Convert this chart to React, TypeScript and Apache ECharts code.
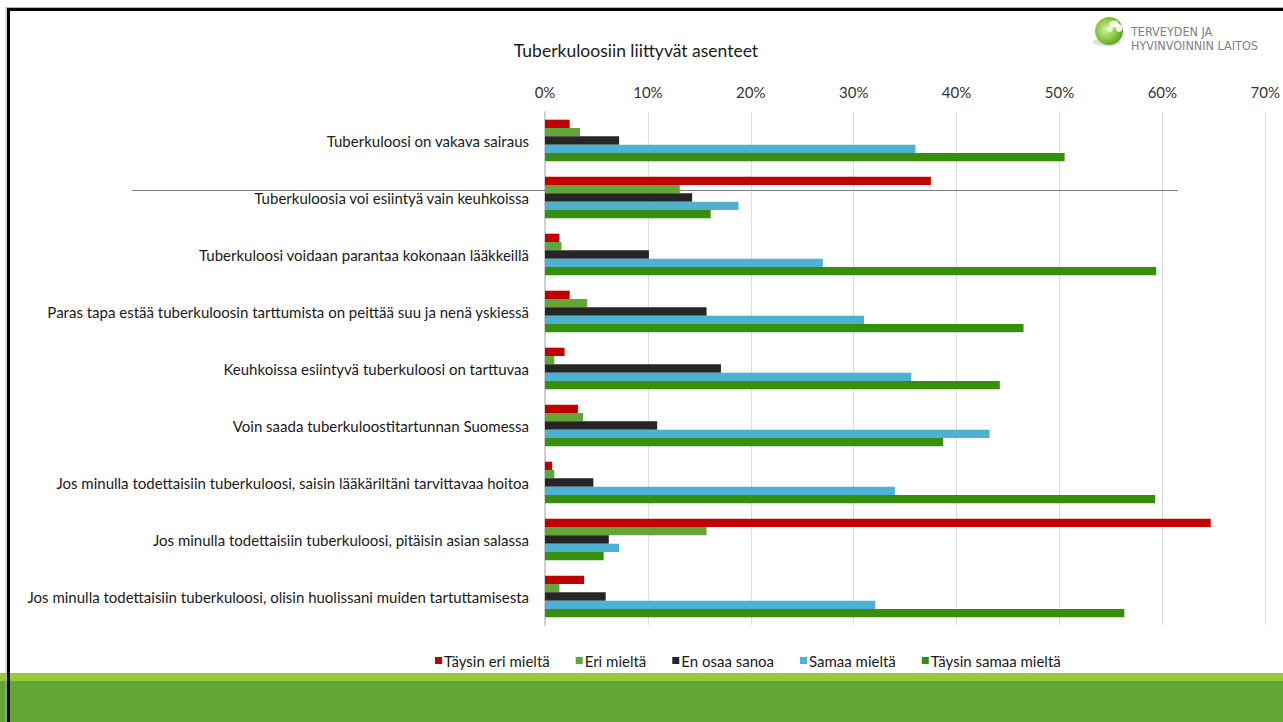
import React, { useEffect, useRef } from "react";
import * as echarts from "echarts";

const categories = [
  "Tuberkuloosi on vakava sairaus",
  "Tuberkuloosia voi esiintyä vain keuhkoissa",
  "Tuberkuloosi voidaan parantaa kokonaan lääkkeillä",
  "Paras tapa estää tuberkuloosin tarttumista on peittää suu ja nenä yskiessä",
  "Keuhkoissa esiintyvä tuberkuloosi on tarttuvaa",
  "Voin saada tuberkuloostitartunnan Suomessa",
  "Jos minulla todettaisiin tuberkuloosi, saisin lääkäriltäni tarvittavaa hoitoa",
  "Jos minulla todettaisiin tuberkuloosi, pitäisin asian salassa",
  "Jos minulla todettaisiin tuberkuloosi, olisin huolissani muiden tartuttamisesta",
];

const seriesNames = [
  "Täysin eri mieltä",
  "Eri mieltä",
  "En osaa sanoa",
  "Samaa mieltä",
  "Täysin samaa mieltä",
];

const taysinEri = [2.4, 37.5, 1.4, 2.4, 1.9, 3.2, 0.7, 64.7, 3.8];
const eri = [3.4, 13.1, 1.6, 4.1, 0.9, 3.7, 0.9, 15.7, 1.4];
const enOsaa = [7.2, 14.3, 10.1, 15.7, 17.1, 10.9, 4.7, 6.2, 5.9];
const samaa = [36.0, 18.8, 27.0, 31.0, 35.6, 43.2, 34.0, 7.2, 32.1];
const taysinSamaa = [50.5, 16.1, 59.4, 46.5, 44.2, 38.7, 59.3, 5.7, 56.3];

const seriesValues = [taysinEri, eri, enOsaa, samaa, taysinSamaa];
const seriesColors = ["#C00000", "#62A63A", "#262626", "#4EB1D0", "#368F0D"];

const FONT = "Lato, 'Open Sans', sans-serif";

export default function App() {
  const ref = useRef<HTMLDivElement>(null);

  useEffect(() => {
    if (!ref.current) return;
    const chart = echarts.init(ref.current, undefined, { renderer: "svg" });

    const option = {
      animation: false,
      backgroundColor: "#ffffff",
      title: {
        text: "Tuberkuloosiin liittyvät asenteet",
        left: 631,
        textAlign: "center",
        top: 36,
        textStyle: {
          fontFamily: FONT,
          fontSize: 17.5,
          fontWeight: "normal",
          color: "#1a1a1a",
        },
      },
      legend: {
        data: seriesNames,
        left: 430,
        top: 648,
        icon: "rect",
        itemWidth: 7,
        itemHeight: 7,
        itemGap: 26,
        textStyle: { fontFamily: FONT, fontSize: 15, color: "#1a1a1a", padding: [0, 0, 0, -3] },
      },
      grid: { left: 545, right: 17, top: 112, bottom: 97, containLabel: false },
      xAxis: {
        type: "value",
        position: "top",
        min: 0,
        max: 70,
        interval: 10,
        axisLine: { show: false },
        axisTick: { show: false },
        axisLabel: {
          formatter: "{value}%",
          fontFamily: FONT,
          fontSize: 15,
          color: "#333333",
          margin: 13,
        },
        splitLine: { show: true, lineStyle: { color: "#dcdcdc", width: 1 } },
      },
      yAxis: {
        type: "category",
        data: categories,
        inverse: true,
        axisTick: { show: false },
        axisLine: { show: true, lineStyle: { color: "#cfcfcf", width: 2 } },
        axisLabel: {
          fontFamily: FONT,
          fontSize: 15,
          color: "#1a1a1a",
          margin: 16,
        },
      },
      series: seriesNames.map((name, i) => ({
        name,
        type: "bar",
        data: seriesValues[i],
        barGap: "0%",
        barCategoryGap: "27%",
        itemStyle: { color: seriesColors[i] },
        z: 3,
      })),
      graphic: [
        {
          type: "line",
          shape: { x1: 132, y1: 190.5, x2: 1178, y2: 190.5 },
          style: { stroke: "#7f7f7f", lineWidth: 1 },
          z: 1,
        },
        {
          type: "rect",
          shape: { x: 0, y: 673, width: 1283, height: 8 },
          style: { fill: "#9ACA3C" },
          z: 5,
        },
        {
          type: "rect",
          shape: { x: 0, y: 681, width: 1283, height: 41 },
          style: { fill: "#63A537" },
          z: 5,
        },
        {
          type: "rect",
          shape: { x: 6, y: 7.5, width: 1400, height: 800 },
          style: { fill: "none", stroke: "#b0b0b0", lineWidth: 1 },
          z: 9,
        },
        {
          type: "rect",
          shape: { x: 8.5, y: 9.5, width: 1400, height: 800 },
          style: { fill: "none", stroke: "#000000", lineWidth: 3 },
          z: 10,
        },
        {
          type: "group",
          z: 10,
          children: [
            {
              type: "ellipse",
              shape: { cx: 1107, cy: 42, rx: 14, ry: 4 },
              style: { fill: "rgba(120,120,120,0.25)" },
            },
            {
              type: "circle",
              shape: { cx: 1109, cy: 31, r: 14 },
              style: {
                fill: new echarts.graphic.RadialGradient(0.4, 0.45, 0.7, [
                  { offset: 0, color: "#d7f0a6" },
                  { offset: 0.55, color: "#86c43c" },
                  { offset: 1, color: "#3d9420" },
                ]),
              },
            },
            {
              type: "ellipse",
              shape: { cx: 1114, cy: 24, rx: 5, ry: 3.5 },
              style: { fill: "rgba(255,255,255,0.9)" },
            },
            {
              type: "ellipse",
              shape: { cx: 1119, cy: 28, rx: 3.5, ry: 4 },
              style: { fill: "rgba(255,255,255,0.85)" },
            },
            {
              type: "ellipse",
              shape: { cx: 1110, cy: 29, rx: 3, ry: 3 },
              style: { fill: "rgba(255,255,255,0.7)" },
            },
          ],
        },
        {
          type: "text",
          x: 1131,
          y: 31,
          style: {
            text: "TERVEYDEN JA",
            fontFamily: "'Liberation Sans Narrow', 'DejaVu Sans Condensed', sans-serif",
            fontSize: 12.5,
            fill: "#808080",
            verticalAlign: "middle",
          },
          z: 10,
        },
        {
          type: "text",
          x: 1131,
          y: 45,
          style: {
            text: "HYVINVOINNIN LAITOS",
            fontFamily: "'Liberation Sans Narrow', 'DejaVu Sans Condensed', sans-serif",
            fontSize: 12.5,
            fill: "#808080",
            verticalAlign: "middle",
          },
          z: 10,
        },
      ],
    };

    chart.setOption(option as any);
    return () => chart.dispose();
  }, []);

  return (
    <div
      ref={ref}
      style={{ position: "fixed", left: 0, top: 0, width: 1283, height: 722 }}
    />
  );
}
